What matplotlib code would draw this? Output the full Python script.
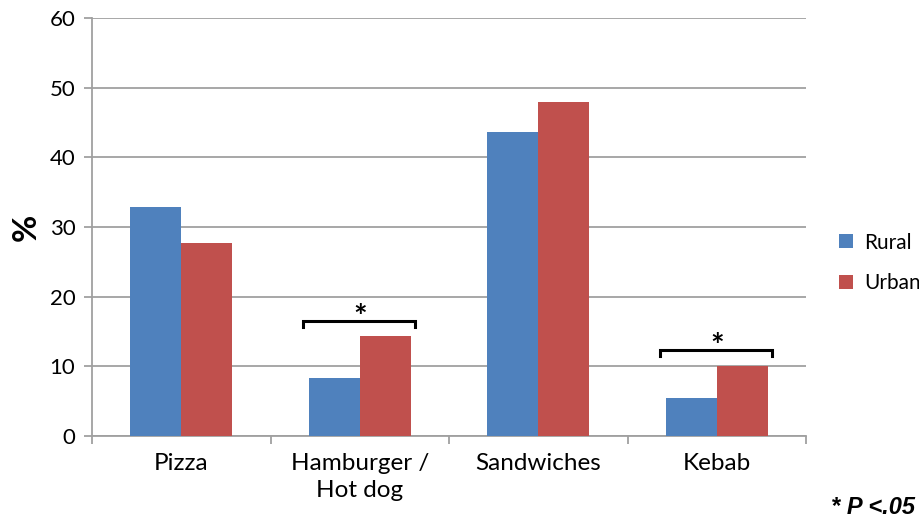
import numpy as np
import matplotlib.pyplot as plt

# Data
categories = ["Pizza", "Hamburger /\nHot dog", "Sandwiches", "Kebab"]
rural = [32.9, 8.3, 43.6, 5.4]
urban = [27.7, 14.4, 47.9, 10.0]
sig_groups = [1, 3]          # groups with * P < .05
sig_heights = [16.5, 12.3]   # bracket level (%)

blue = "#4F81BD"
red = "#C0504D"
grey = "#A0A0A0"

plt.rcParams['font.family'] = ['Lato', 'DejaVu Sans']

fig = plt.figure(figsize=(9.19, 5.22), dpi=100)
ax = fig.add_axes([92/919, 86/522, 714/919, 418/522])

x = np.arange(len(categories))
w = 0.285
ax.bar(x - w/2, rural, w, color=blue, label="Rural", zorder=3)
ax.bar(x + w/2, urban, w, color=red, label="Urban", zorder=3)

ax.set_xlim(-0.5, len(categories) - 0.5)
ax.set_ylim(0, 60)
ax.set_yticks(range(0, 61, 10))
ax.yaxis.grid(True, color=grey, linewidth=1.3, zorder=0)
ax.set_axisbelow(True)

# x ticks between categories, labels centred on groups
ax.set_xticks(np.arange(-0.5, len(categories), 1.0))
ax.set_xticklabels([])
ax.set_xticks(x, minor=True)
ax.set_xticklabels(categories, minor=True, fontsize=17.5, linespacing=1.35)
ax.tick_params(axis='x', which='minor', length=0, pad=12)
ax.tick_params(axis='x', which='major', length=6, color=grey, width=1.3)
ax.tick_params(axis='y', length=6, color=grey, width=1.3, labelsize=16, pad=6)

for s in ["top", "right"]:
    ax.spines[s].set_visible(False)
for s in ["left", "bottom"]:
    ax.spines[s].set_color(grey)
    ax.spines[s].set_linewidth(1.3)

ax.set_ylabel("%", fontsize=24, fontweight="bold", labelpad=6)

# significance brackets
for g, h in zip(sig_groups, sig_heights):
    x0, x1 = g - 0.32, g + 0.31
    ax.plot([x0, x0, x1, x1], [h - 0.8, h, h, h - 0.8], color="black", lw=2.2,
            zorder=4, solid_joinstyle="miter")
    ax.text(g, h - 1.0, "*", ha="center", va="baseline", fontsize=23, fontweight="bold")

ax.legend(loc="center left", bbox_to_anchor=(1.02, 0.414), frameon=False,
          fontsize=15, handlelength=0.65, handleheight=0.65, labelspacing=1.0,
          handletextpad=0.55)

fig.text(915/919, 1 - 507/522, "* P <.05", ha="right", va="center", fontsize=17,
         fontweight="bold", fontstyle="italic", family="Liberation Sans")

fig.savefig("out.png", dpi=100)
